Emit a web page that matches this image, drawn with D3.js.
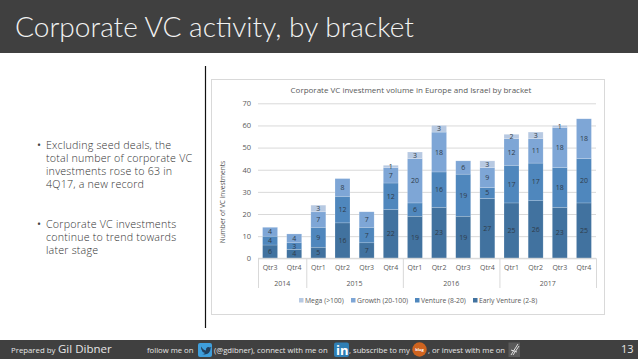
<!DOCTYPE html>
<html>
<head>
<meta charset="utf-8">
<script src="https://cdnjs.cloudflare.com/ajax/libs/d3/7.8.5/d3.min.js"></script>
<style>
html, body { margin: 0; padding: 0; background: #fff; }
svg { display: block; }
text { font-family: "Open Sans", "Noto Sans", sans-serif; }
</style>
</head>
<body>
<div id="chart"></div>
<script>
const quarters = ["Qtr3", "Qtr4", "Qtr1", "Qtr2", "Qtr3", "Qtr4", "Qtr1", "Qtr2", "Qtr3", "Qtr4", "Qtr1", "Qtr2", "Qtr3", "Qtr4"];
const years = ["2014", "2015", "2016", "2017"];
const yearSpans = [2, 4, 4, 4];
const earlyVenture = [6, 4, 5, 16, 7, 22, 19, 23, 19, 27, 25, 26, 23, 25];
const venture = [4, 3, 9, 12, 7, 12, 6, 16, 19, 5, 17, 17, 18, 20];
const growth = [4, 4, 7, 8, 7, 7, 20, 18, 6, 9, 12, 11, 18, 18];
const mega = [0, 0, 3, 0, 0, 1, 3, 3, 0, 3, 2, 3, 1, 0];
const seriesNames = ["Mega (>100)", "Growth (20-100)", "Venture (8-20)", "Early Venture (2-8)"];
const seriesColors = ["#b7c9e2", "#7ea6d6", "#4f87bd", "#41729f"];
const yTicks = [0, 10, 20, 30, 40, 50, 60, 70];
const bullets = [
    ["Excluding seed deals, the", "total number of corporate VC", "investments rose to 63 in", "4Q17, a new record"],
    ["Corporate VC investments", "continue to trend towards", "later stage"]
];

const width = 638, height = 359;
const svg = d3.select("#chart").append("svg")
    .attr("width", width)
    .attr("height", height);

// header and footer bands
svg.append("rect").attr("width", width).attr("height", 53).attr("fill", "#404040");
svg.append("text").attr("x", 15).attr("y", 36.5)
    .style("font-family", "Lato, 'Open Sans', sans-serif")
    .attr("font-size", 28.1).attr("font-weight", 300).attr("fill", "#f2f2f2")
    .text("Corporate VC activity, by bracket");
svg.append("rect").attr("y", 340).attr("width", width).attr("height", 19).attr("fill", "#404040");

// left column
svg.append("line").attr("x1", 205.5).attr("x2", 205.5).attr("y1", 66).attr("y2", 328)
    .attr("stroke", "#111").attr("stroke-width", 1.2);

const bulletTop = [149.3, 227.7];
bullets.forEach((lines, b) => {
    svg.append("text").attr("x", 37).attr("y", bulletTop[b])
        .attr("font-size", 10.7).attr("fill", "#404040").text("•");
    lines.forEach((line, i) => {
        svg.append("text").attr("x", 46).attr("y", bulletTop[b] + i * 12.9)
            .attr("font-size", 10.7).attr("font-weight", 300).attr("letter-spacing", 0.2)
            .attr("fill", "#333").text(line);
    });
});

// chart frame
svg.append("rect").attr("x", 211.5).attr("y", 79.5).attr("width", 393).attr("height", 235)
    .attr("fill", "#fff").attr("stroke", "#d9d9d9");
svg.append("text").attr("x", 411).attr("y", 93).attr("text-anchor", "middle")
    .attr("font-size", 8).attr("fill", "#595959")
    .text("Corporate VC investment volume in Europe and Israel by bracket");

const plot = { left: 258, right: 596, top: 103.3, bottom: 258.3 };
const x = d3.scaleBand().domain(d3.range(quarters.length))
    .range([plot.left, plot.right]).paddingInner(0.38).paddingOuter(0.19);
const y = d3.scaleLinear().domain([0, 70]).range([plot.bottom, plot.top]);

// gridlines + y axis
const yAxis = d3.axisLeft(y).tickValues(yTicks).tickSize(plot.left - plot.right).tickPadding(7);
const yG = svg.append("g").attr("transform", `translate(${plot.left},0)`).call(yAxis);
yG.select(".domain").remove();
yG.selectAll("line").attr("stroke", "#d9d9d9");
yG.selectAll("text").attr("font-size", 7.5).attr("fill", "#595959");

svg.append("text")
    .attr("transform", "translate(224.5,202) rotate(-90)")
    .attr("text-anchor", "middle").attr("font-size", 6.6).attr("fill", "#595959")
    .text("Number of VC investments");

// stacked bars, bottom up
const stackOrder = [earlyVenture, venture, growth, mega];
const rows = quarters.map((q, i) => ({ i, s0: earlyVenture[i], s1: venture[i], s2: growth[i], s3: mega[i] }));
const stack = d3.stack().keys(["s0", "s1", "s2", "s3"]);
const layers = stack(rows);
const colorsBottomUp = seriesColors.slice().reverse();

layers.forEach((layer, k) => {
    const g = svg.append("g");
    g.selectAll("rect").data(layer.filter(d => stackOrder[k][d.data.i] > 0)).enter().append("rect")
        .attr("x", d => x(d.data.i))
        .attr("width", x.bandwidth())
        .attr("y", d => y(d[1]))
        .attr("height", d => y(d[0]) - y(d[1]))
        .attr("fill", colorsBottomUp[k])
        .attr("stroke", "#fff").attr("stroke-opacity", 0.35).attr("stroke-width", 0.5);
    g.selectAll("text").data(layer.filter(d => stackOrder[k][d.data.i] > 0)).enter().append("text")
        .attr("x", d => x(d.data.i) + x.bandwidth() / 2)
        .attr("y", d => (y(d[0]) + y(d[1])) / 2 + 2.5)
        .attr("text-anchor", "middle")
        .attr("font-size", 7).attr("fill", "#2f3c4a")
        .text(d => stackOrder[k][d.data.i]);
});

// multi level category axis
const xAxis = d3.axisBottom(x).tickFormat(i => quarters[i]).tickSize(0).tickPadding(7);
const xG = svg.append("g").attr("transform", `translate(0,${plot.bottom})`).call(xAxis);
xG.select(".domain").remove();
xG.selectAll("text").attr("font-size", 7).attr("fill", "#595959");

svg.append("line").attr("x1", plot.left).attr("x2", plot.right)
    .attr("y1", plot.bottom).attr("y2", plot.bottom).attr("stroke", "#d9d9d9");

let start = 0;
const sepX = i => plot.left + i * (plot.right - plot.left) / quarters.length;
years.forEach((year, j) => {
    svg.append("line").attr("x1", sepX(start) + 0.5).attr("x2", sepX(start) + 0.5)
        .attr("y1", plot.bottom).attr("y2", 288).attr("stroke", "#d9d9d9");
    svg.append("text").attr("x", sepX(start + yearSpans[j] / 2)).attr("y", 286)
        .attr("text-anchor", "middle").attr("font-size", 7).attr("fill", "#595959")
        .text(year);
    start += yearSpans[j];
});
svg.append("line").attr("x1", plot.right + 0.5).attr("x2", plot.right + 0.5)
    .attr("y1", plot.bottom).attr("y2", 288).attr("stroke", "#d9d9d9");

// legend
const legendX = [299, 351, 415, 473];
seriesNames.forEach((name, i) => {
    svg.append("rect").attr("x", legendX[i]).attr("y", 298).attr("width", 4.5).attr("height", 4.5)
        .attr("fill", seriesColors[i]);
    svg.append("text").attr("x", legendX[i] + 6).attr("y", 303)
        .attr("font-size", 6.8).attr("fill", "#595959").text(name);
});

// footer text
const footerText = (tx, s, size, fill) => svg.append("text").attr("x", tx).attr("y", 353.3)
    .attr("font-size", size).attr("fill", fill || "#e6e6e6").text(s);
footerText(11, "Prepared by", 7.8);
footerText(58, "Gil Dibner", 11.5);
footerText(147, "follow me on", 7.7);
footerText(214, "(@gdibner), connect with me on", 7.7);
footerText(349, ", subscribe to my", 7.7);
footerText(428, ", or invest with me on", 7.7);
footerText(621, "13", 11);

// footer icons
svg.append("rect").attr("x", 198).attr("y", 343).attr("width", 14).attr("height", 14).attr("rx", 2).attr("fill", "#3f9fdc");
svg.append("path").attr("transform", "translate(198,342.5)")
    .attr("d", "M3 4 C5 7 7 8 8 8 C7.5 5 10 3.5 12 5 L13.5 4.5 L12.5 6 C12.5 10 9 13 4 11.5 C6 11.5 6.5 11 7 10.5 C5 10 4 9 4 8 C3 7 3 5 3 4 Z")
    .attr("fill", "#23415f");
svg.append("rect").attr("x", 334).attr("y", 342.5).attr("width", 15).attr("height", 14.5).attr("rx", 2).attr("fill", "#2f7fb5");
svg.append("text").attr("x", 336).attr("y", 354.5).attr("font-size", 13).attr("font-weight", 700).attr("fill", "#fff").text("in");
svg.append("circle").attr("cx", 419.5).attr("cy", 349.5).attr("r", 7.2).attr("fill", "#cf6420");
svg.append("text").attr("x", 419.5).attr("y", 351).attr("text-anchor", "middle").attr("font-size", 4).attr("font-weight", 700).attr("fill", "#fff").text("blog");
svg.append("rect").attr("x", 508.5).attr("y", 342.5).attr("width", 11.5).attr("height", 14.5).attr("fill", "#5a5a5a");
svg.append("path").attr("d", "M511 355 L518 344 M513 355 L519 346 M511 350 L517 352")
    .attr("stroke", "#ddd").attr("stroke-width", 1).attr("fill", "none");
</script>
</body>
</html>
